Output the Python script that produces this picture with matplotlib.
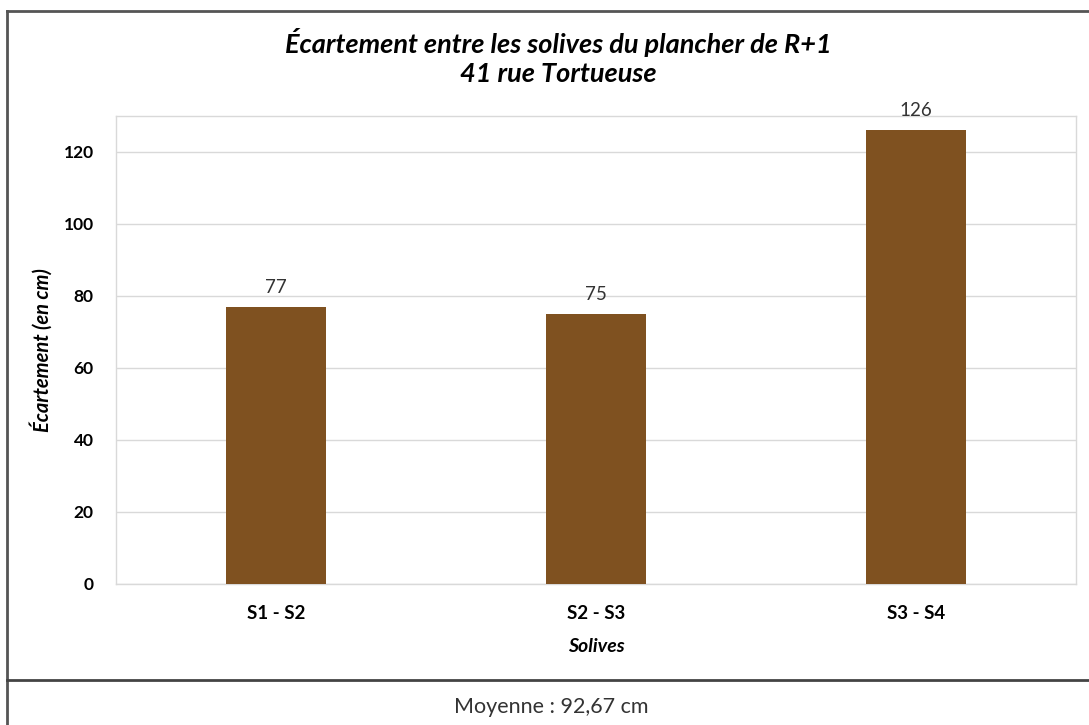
import matplotlib.pyplot as plt
from matplotlib.lines import Line2D

plt.rcParams['font.family'] = ['Lato', 'DejaVu Sans']

categories = ['S1 - S2', 'S2 - S3', 'S3 - S4']
ecartements = [77, 75, 126]
y_ticks = [0, 20, 40, 60, 80, 100, 120]
moyenne = '92,67'

fig = plt.figure(figsize=(10.89, 7.25), dpi=100)
ax = fig.add_axes([0.1065, 0.1945, 0.8815, 0.6455])

x = range(len(categories))
bars = ax.bar(x, ecartements, width=0.315, color='#7F5120', zorder=3)
for rect, v in zip(bars, ecartements):
    ax.annotate(str(v), (rect.get_x() + rect.get_width() / 2, v),
                xytext=(0, 8), textcoords='offset points',
                ha='center', va='bottom', fontsize=13.5, color='#333333')

ax.set_xlim(-0.5, len(categories) - 0.5)
ax.set_ylim(0, 130)
ax.set_yticks(y_ticks)
ax.set_xticks(list(x))
ax.set_xticklabels(categories, fontsize=13.5, fontweight='bold')
ax.tick_params(axis='y', labelsize=12.5, length=0, pad=16)
ax.tick_params(axis='x', length=0, pad=15)
for lab in ax.get_yticklabels():
    lab.set_fontweight('bold')
ax.grid(axis='y', color='#D9D9D9', linewidth=1, zorder=0)
for s in ax.spines.values():
    s.set_color('#D9D9D9')
    s.set_linewidth(1)

ax.set_xlabel('Solives', fontsize=14, fontweight='bold', style='italic', labelpad=12)
ax.set_ylabel('Écartement (en cm)', fontsize=14.5, fontweight='bold', style='italic', labelpad=8)

fig.text(0.513, 1 - 57 / 725, 'Écartement entre les solives du plancher de R+1\n41 rue Tortueuse',
         ha='center', va='center', fontsize=19.5, fontweight='bold', style='italic',
         linespacing=1.25)

# outer frame and the footer row holding the average
fig.add_artist(Line2D([0.0064, 0.0064], [0, 0.985], color='#555555', lw=2, transform=fig.transFigure))
fig.add_artist(Line2D([0.0064, 1.0], [0.985, 0.985], color='#555555', lw=2, transform=fig.transFigure))
fig.add_artist(Line2D([0.0064, 1.0], [1 - 680 / 725, 1 - 680 / 725], color='#444444', lw=2, transform=fig.transFigure))
fig.text(551 / 1089, 1 - 707 / 725, 'Moyenne : ' + moyenne + ' cm', ha='center', va='center',
         fontsize=15.5, color='#333333')

fig.savefig('out.png', dpi=100)
